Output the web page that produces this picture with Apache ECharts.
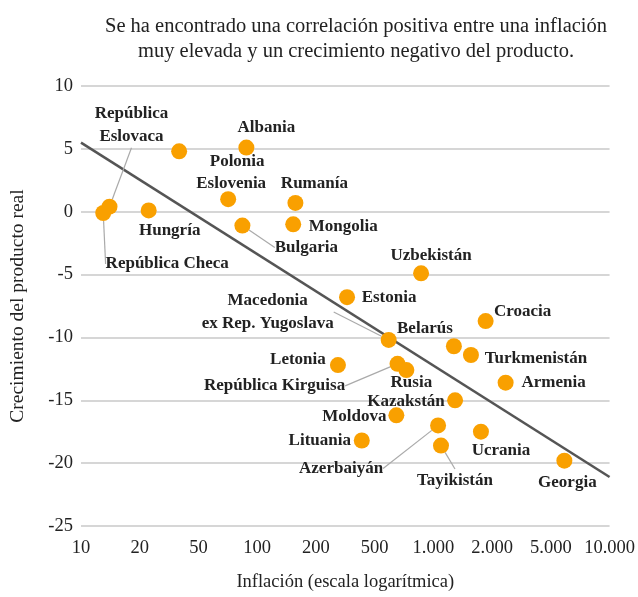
<!DOCTYPE html>
<html>
<head>
<meta charset="utf-8">
<script src="https://cdn.jsdelivr.net/npm/echarts@6/dist/echarts.min.js"></script>
<style>
  html, body { margin: 0; padding: 0; background: #fff; }
  #chart { width: 638px; height: 597px; }
</style>
</head>
<body>
<div id="chart"></div>
<script>
// tick values of the x axis (evenly spaced in the original)
var xTicks = [10, 20, 50, 100, 200, 500, 1000, 2000, 5000, 10000];
var xTickLabels = ['10', '20', '50', '100', '200', '500', '1.000', '2.000', '5.000', '10.000'];
var yTicks = [-25, 10, 5];

var countries = ['República Checa', 'República\nEslovaca', 'Hungría', 'Polonia', 'Albania',
  'Eslovenia', 'Bulgaria', 'Rumanía', 'Mongolia', 'Uzbekistán', 'Estonia',
  'Macedonia\nex Rep. Yugoslava', 'Croacia', 'Belarús', 'Turkmenistán', 'Armenia',
  'Letonia', 'República Kirguisa', 'Rusia', 'Kazakstán', 'Moldova', 'Lituania',
  'Azerbaiyán', 'Tayikistán', 'Ucrania', 'Georgia'];
var inflation = [13, 14, 23, 37, 88, 71, 84, 157, 153, 865, 325, 590, 1853, 1274, 1558, 2470,
  282, 655, 727, 1292, 646, 409, 1057, 1094, 1753, 5866];
var growth = [-0.1, 0.4, 0.1, 4.8, 5.1, 1.0, -1.1, 0.7, -1.0, -4.9, -6.8, -10.2, -8.7, -10.7,
  -11.4, -13.6, -12.2, -12.1, -12.6, -15.0, -16.2, -18.2, -17.0, -18.6, -17.5, -19.8];

// trend line end points
var trendX = [10, 10000];
var trendY = [5.5, -21.1];

// label placement (offset from the point) and leader lines
var labelOffsets = [[64, 51], [22, -82], [21, 20], [58, 10], [20, -20], [3, -16], [64, 22],
  [19, -19], [50, 2], [10, -18], [42, 0], [-121, -28], [37, -9], [-29, -18], [65, 4],
  [48, 0], [-40, -5], [-123, 22], [5, 12], [-49, 1], [-42, 1], [-42, 0], [-97, 43],
  [14, 35], [20, 19], [3, 22]];
var withLeader = ['República Checa', 'República\nEslovaca', 'Bulgaria',
  'Macedonia\nex Rep. Yugoslava', 'República Kirguisa', 'Azerbaiyán', 'Tayikistán'];

// position on the evenly spaced 10-20-50 axis (log between ticks)
function pos(v) {
  for (var i = 0; i < xTicks.length - 1; i++) {
    if (v <= xTicks[i + 1]) {
      return i + Math.log(v / xTicks[i]) / Math.log(xTicks[i + 1] / xTicks[i]);
    }
  }
  return xTicks.length - 1;
}

var serif = '"Liberation Serif", "DejaVu Serif", serif';

var points = countries.map(function (c, i) {
  return {
    name: c,
    value: [pos(inflation[i]), growth[i]],
    label: { offset: labelOffsets[i] },
    labelLine: { show: withLeader.indexOf(c) >= 0 }
  };
});

var myChart = echarts.init(document.getElementById('chart'));
var option = {
  animation: false,
  backgroundColor: '#fff',
  title: {
    text: 'Se ha encontrado una correlación positiva entre una inflación\nmuy elevada y un crecimiento negativo del producto.',
    left: 351,
    top: 9,
    textAlign: 'center',
    textStyle: { fontFamily: serif, fontWeight: 'normal', fontSize: 20.5, lineHeight: 25, color: '#222' }
  },
  grid: { left: 80, right: 26, top: 86, bottom: 70 },
  xAxis: {
    type: 'value',
    min: 0,
    max: 9,
    interval: 1,
    name: 'Inflación (escala logarítmica)',
    nameLocation: 'middle',
    nameGap: 47,
    nameTextStyle: { fontFamily: serif, fontSize: 18.5, color: '#222' },
    axisLine: { show: false },
    axisTick: { show: false },
    splitLine: { show: false },
    axisLabel: {
      fontFamily: serif, fontSize: 18.5, color: '#222', margin: 13,
      formatter: function (v) { return xTickLabels[v]; }
    }
  },
  yAxis: {
    type: 'value',
    min: yTicks[0],
    max: yTicks[1],
    interval: yTicks[2],
    name: 'Crecimiento del producto real',
    nameLocation: 'middle',
    nameGap: 53,
    nameTextStyle: { fontFamily: serif, fontSize: 19.5, color: '#222' },
    axisLine: { show: false },
    axisTick: { show: false },
    splitLine: { lineStyle: { color: '#c8c8c8', width: 1.5 } },
    axisLabel: { fontFamily: serif, fontSize: 18.5, color: '#222', margin: 8 }
  },
  series: [
    {
      type: 'line',
      data: trendX.map(function (x, i) { return [pos(x), trendY[i]]; }),
      symbol: 'none',
      lineStyle: { color: '#555', width: 2.5 },
      z: 2
    },
    {
      type: 'scatter',
      data: points,
      symbolSize: 16,
      itemStyle: { color: '#F9A000', opacity: 1 },
      label: {
        show: true,
        position: 'inside',
        formatter: '{b}',
        align: 'center',
        verticalAlign: 'middle',
        fontFamily: serif,
        fontWeight: 'bold',
        fontSize: 17,
        lineHeight: 23,
        color: '#222'
      },
      labelLine: { lineStyle: { color: '#aaa', width: 1.2 } },
      z: 3
    }
  ]
};
myChart.setOption(option);
</script>
</body>
</html>
